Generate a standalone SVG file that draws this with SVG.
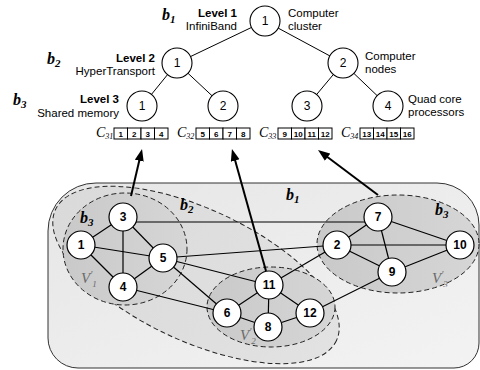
<svg xmlns="http://www.w3.org/2000/svg" width="480" height="370" viewBox="0 0 480 370">
  <defs>
    <style>
      .lbl { font-family: "Liberation Sans", Arial, sans-serif; font-size: 11.5px; fill: #000; }
      .lvl { font-weight: bold; }
      .bsym { font-family: "Liberation Serif", "Times New Roman", serif; font-style: italic; font-weight: bold; font-size: 16px; fill: #000; }
      .csym { font-family: "Liberation Serif", "Times New Roman", serif; font-style: italic; font-size: 14px; fill: #000; }
      .vsym { font-family: "Liberation Serif", "Times New Roman", serif; font-style: italic; font-size: 15px; fill: #6a6a6a; }
      .tnode circle { fill: #fff; stroke: #000; stroke-width: 1.1; }
      .tnode text { font-family: "Liberation Sans", Arial, sans-serif; font-size: 12px; text-anchor: middle; dominant-baseline: central; }
      .gnode circle { fill: #fff; stroke: #000; stroke-width: 1.2; }
      .gnode text { font-family: "Liberation Sans", Arial, sans-serif; font-size: 12px; font-weight: bold; text-anchor: middle; dominant-baseline: central; }
      .tedge line { stroke: #000; stroke-width: 1; }
      .gedge line { stroke: #000; stroke-width: 1.2; }
      .dash { stroke: #222; stroke-width: 1; stroke-dasharray: 5 3; }
      .box rect { fill: #fff; stroke: #000; stroke-width: 1; }
      .box text { font-family: "Liberation Sans", Arial, sans-serif; font-size: 8px; font-weight: bold; text-anchor: middle; }
      .arrow { stroke: #000; stroke-width: 2; fill: none; marker-end: url(#head); }
    </style>
    <marker id="head" markerUnits="userSpaceOnUse" markerWidth="12" markerHeight="10" refX="4" refY="4.5" orient="auto">
      <path d="M0,0 L12,4.5 L0,9 z" fill="#000"/>
    </marker>
    <linearGradient id="bg1" x1="0" y1="0" x2="1" y2="1">
      <stop offset="0" stop-color="#e6e6e6"/>
      <stop offset="1" stop-color="#f3f3f3"/>
    </linearGradient>
    <linearGradient id="bg2" x1="0" y1="0" x2="1" y2="0">
      <stop offset="0" stop-color="#dadada"/>
      <stop offset="1" stop-color="#e2e2e2"/>
    </linearGradient>
    <linearGradient id="bgv" x1="0" y1="0" x2="1" y2="0">
      <stop offset="0" stop-color="#c9c9c9"/>
      <stop offset="1" stop-color="#d6d6d6"/>
    </linearGradient>
  </defs>

  <!-- hierarchy tree -->
  <g id="tree-edges" class="tedge">
    <line x1="265" y1="21" x2="177" y2="63"/>
    <line x1="265" y1="21" x2="343" y2="63"/>
    <line x1="177" y1="63" x2="142" y2="106"/>
    <line x1="177" y1="63" x2="223" y2="106"/>
    <line x1="343" y1="63" x2="307" y2="106"/>
    <line x1="343" y1="63" x2="388" y2="106"/>
  </g>
  <g id="t-root" class="tnode"><circle cx="265" cy="21" r="15"/><text x="265" y="21">1</text></g>
  <g id="t-l2-1" class="tnode"><circle cx="177" cy="63" r="15"/><text x="177" y="63">1</text></g>
  <g id="t-l2-2" class="tnode"><circle cx="343" cy="63" r="15"/><text x="343" y="63">2</text></g>
  <g id="t-l3-1" class="tnode"><circle cx="142" cy="106" r="15"/><text x="142" y="106">1</text></g>
  <g id="t-l3-2" class="tnode"><circle cx="223" cy="106" r="15"/><text x="223" y="106">2</text></g>
  <g id="t-l3-3" class="tnode"><circle cx="307" cy="106" r="15"/><text x="307" y="106">3</text></g>
  <g id="t-l3-4" class="tnode"><circle cx="388" cy="106" r="15"/><text x="388" y="106">4</text></g>

  <!-- level labels -->
  <g id="level-labels">
    <text class="bsym" x="162" y="20">b<tspan font-size="11" dy="3">1</tspan></text>
    <text class="lbl lvl" x="237" y="17" text-anchor="end">Level 1</text>
    <text class="lbl" x="237" y="30" text-anchor="end">InfiniBand</text>
    <text class="lbl" x="288" y="17">Computer</text>
    <text class="lbl" x="288" y="30">cluster</text>

    <text class="bsym" x="47" y="64">b<tspan font-size="11" dy="3">2</tspan></text>
    <text class="lbl lvl" x="155" y="62" text-anchor="end">Level 2</text>
    <text class="lbl" x="155" y="75" text-anchor="end">HyperTransport</text>
    <text class="lbl" x="365" y="60">Computer</text>
    <text class="lbl" x="365" y="73">nodes</text>

    <text class="bsym" x="13" y="105">b<tspan font-size="11" dy="3">3</tspan></text>
    <text class="lbl lvl" x="119" y="103" text-anchor="end">Level 3</text>
    <text class="lbl" x="119" y="117" text-anchor="end">Shared memory</text>
    <text class="lbl" x="408" y="103">Quad core</text>
    <text class="lbl" x="408" y="116">processors</text>
  </g>

  <!-- core sets -->
  <g id="c31">
    <text class="csym" x="96" y="137">C<tspan font-size="8" dy="2">31</tspan></text>
    <g class="box">
      <rect x="114" y="128" width="13.5" height="11"/><text x="120.75" y="136.5">1</text>
      <rect x="127.5" y="128" width="13.5" height="11"/><text x="134.25" y="136.5">2</text>
      <rect x="141" y="128" width="13.5" height="11"/><text x="147.75" y="136.5">3</text>
      <rect x="154.5" y="128" width="13.5" height="11"/><text x="161.25" y="136.5">4</text>
    </g>
  </g>
  <g id="c32">
    <text class="csym" x="177" y="137">C<tspan font-size="8" dy="2">32</tspan></text>
    <g class="box">
      <rect x="196" y="128" width="13.5" height="11"/><text x="202.75" y="136.5">5</text>
      <rect x="209.5" y="128" width="13.5" height="11"/><text x="216.25" y="136.5">6</text>
      <rect x="223" y="128" width="13.5" height="11"/><text x="229.75" y="136.5">7</text>
      <rect x="236.5" y="128" width="13.5" height="11"/><text x="243.25" y="136.5">8</text>
    </g>
  </g>
  <g id="c33">
    <text class="csym" x="259" y="137">C<tspan font-size="8" dy="2">33</tspan></text>
    <g class="box">
      <rect x="278" y="128" width="13.5" height="11"/><text x="284.75" y="136.5">9</text>
      <rect x="291.5" y="128" width="13.5" height="11"/><text x="298.25" y="136.5">10</text>
      <rect x="305" y="128" width="13.5" height="11"/><text x="311.75" y="136.5">11</text>
      <rect x="318.5" y="128" width="13.5" height="11"/><text x="325.25" y="136.5">12</text>
    </g>
  </g>
  <g id="c34">
    <text class="csym" x="341" y="137">C<tspan font-size="8" dy="2">34</tspan></text>
    <g class="box">
      <rect x="360" y="128" width="13.5" height="11"/><text x="366.75" y="136.5">13</text>
      <rect x="373.5" y="128" width="13.5" height="11"/><text x="380.25" y="136.5">14</text>
      <rect x="387" y="128" width="13.5" height="11"/><text x="393.75" y="136.5">15</text>
      <rect x="400.5" y="128" width="13.5" height="11"/><text x="407.25" y="136.5">16</text>
    </g>
  </g>

  <!-- partition regions -->
  <g id="region-b1">
    <path d="M96 183 H437 A42 42 0 0 1 479 225 V343 A25 25 0 0 1 454 368 H78 A30 30 0 0 1 48 338 V231 A48 48 0 0 1 96 183 Z" fill="url(#bg1)" stroke="#333" stroke-width="1"/>
    <text class="bsym" x="286" y="200">b<tspan font-size="11" dy="3">1</tspan></text>
  </g>
  <g id="region-b2">
    <ellipse cx="196" cy="275" rx="155" ry="66" transform="rotate(25 196 275)" fill="url(#bg2)" class="dash"/>
    <text class="bsym" x="180" y="210">b<tspan font-size="11" dy="3">2</tspan></text>
  </g>
  <g id="region-v1">
    <ellipse cx="125" cy="249" rx="62" ry="56" fill="url(#bgv)" class="dash"/>
    <text class="bsym" x="80" y="223">b<tspan font-size="11" dy="3">3</tspan></text>
    <text class="vsym" x="81" y="283">V<tspan font-size="10" dy="-5">′</tspan><tspan font-size="9" dy="9">1</tspan></text>
  </g>
  <g id="region-v2">
    <ellipse cx="271" cy="307" rx="64" ry="40" fill="url(#bgv)" class="dash"/>
    <text class="vsym" x="240" y="340">V<tspan font-size="10" dy="-5">′</tspan><tspan font-size="9" dy="9">2</tspan></text>
  </g>
  <g id="region-v3">
    <ellipse cx="398" cy="244" rx="81" ry="49" fill="url(#bgv)" class="dash"/>
    <text class="bsym" x="435" y="215">b<tspan font-size="11" dy="3">3</tspan></text>
    <text class="vsym" x="432" y="283">V<tspan font-size="10" dy="-5">′</tspan><tspan font-size="9" dy="9">3</tspan></text>
  </g>

  <!-- graph edges -->
  <g id="graph-edges" class="gedge">
    <line x1="123" y1="217" x2="81" y2="245"/>
    <line x1="123" y1="217" x2="123" y2="287"/>
    <line x1="123" y1="217" x2="163" y2="258"/>
    <line x1="123" y1="222" x2="378" y2="222"/>
    <line x1="81" y1="245" x2="163" y2="258"/>
    <line x1="81" y1="245" x2="123" y2="287"/>
    <line x1="123" y1="287" x2="163" y2="258"/>
    <line x1="163" y1="258" x2="337" y2="245"/>
    <line x1="163" y1="258" x2="269" y2="285"/>
    <line x1="163" y1="258" x2="227" y2="313"/>
    <line x1="123" y1="287" x2="227" y2="313"/>
    <line x1="269" y1="285" x2="337" y2="245"/>
    <line x1="310" y1="313" x2="392" y2="272"/>
    <line x1="269" y1="285" x2="227" y2="313"/>
    <line x1="269" y1="285" x2="268" y2="327"/>
    <line x1="269" y1="285" x2="310" y2="313"/>
    <line x1="227" y1="313" x2="268" y2="327"/>
    <line x1="268" y1="327" x2="310" y2="313"/>
    <line x1="378" y1="217" x2="337" y2="245"/>
    <line x1="378" y1="217" x2="392" y2="272"/>
    <line x1="378" y1="217" x2="460" y2="245"/>
    <line x1="337" y1="245" x2="460" y2="245"/>
    <line x1="337" y1="245" x2="392" y2="272"/>
    <line x1="392" y1="272" x2="460" y2="245"/>
  </g>

  <!-- graph nodes -->
  <g id="n1" class="gnode"><circle cx="81" cy="245" r="14"/><text x="81" y="245">1</text></g>
  <g id="n2" class="gnode"><circle cx="337" cy="245" r="14"/><text x="337" y="245">2</text></g>
  <g id="n3" class="gnode"><circle cx="123" cy="217" r="14"/><text x="123" y="217">3</text></g>
  <g id="n4" class="gnode"><circle cx="123" cy="287" r="14"/><text x="123" y="287">4</text></g>
  <g id="n5" class="gnode"><circle cx="163" cy="258" r="14"/><text x="163" y="258">5</text></g>
  <g id="n6" class="gnode"><circle cx="227" cy="313" r="14"/><text x="227" y="313">6</text></g>
  <g id="n7" class="gnode"><circle cx="378" cy="217" r="14"/><text x="378" y="217">7</text></g>
  <g id="n8" class="gnode"><circle cx="268" cy="327" r="14"/><text x="268" y="327">8</text></g>
  <g id="n9" class="gnode"><circle cx="392" cy="272" r="14"/><text x="392" y="272">9</text></g>
  <g id="n10" class="gnode"><circle cx="460" cy="245" r="14"/><text x="460" y="245">10</text></g>
  <g id="n11" class="gnode"><circle cx="269" cy="285" r="14"/><text x="269" y="285">11</text></g>
  <g id="n12" class="gnode"><circle cx="310" cy="313" r="14"/><text x="310" y="313">12</text></g>

  <!-- mapping arrows -->
  <g id="mapping-arrows">
    <line class="arrow" x1="131" y1="196" x2="140.2" y2="156.8"/>
    <line class="arrow" x1="266" y1="271" x2="234.1" y2="156.7"/>
    <line class="arrow" x1="378" y1="195" x2="324.4" y2="154.8"/>
  </g>
</svg>
